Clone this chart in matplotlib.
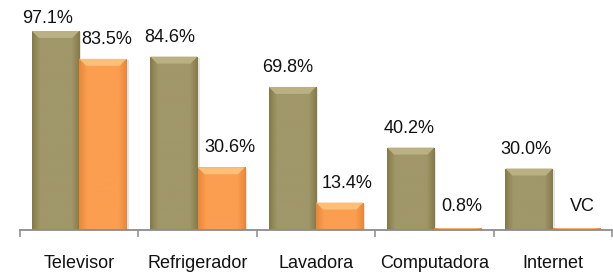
#!/usr/bin/env python3
"""Tenencia de bienes: dos series de barras con etiquetas de porcentaje."""
import numpy as np
import matplotlib
matplotlib.use('Agg')
import matplotlib.pyplot as plt
from matplotlib.patches import Polygon
from matplotlib.colors import LinearSegmentedColormap

categories = ['Televisor', 'Refrigerador', 'Lavadora', 'Computadora', 'Internet']
serie_a = [97.1, 84.6, 69.8, 40.2, 30.0]
serie_b = [83.5, 30.6, 13.4, 0.8, 0.8]
labels_a = ['97.1%', '84.6%', '69.8%', '40.2%', '30.0%']
labels_b = ['83.5%', '30.6%', '13.4%', '0.8%', 'VC']

# label nudges in points (dx, dy)
nudge_a = [(-6, -5), (-3, 0), (-3, 0), (-1, 0), (-2, 0)]
nudge_b = [(3, 0), (6, 0), (5, 0), (3, 2), (4, 2)]

OLIVE = ('#857b48', '#a0976a', '#b9b183')   # edge, body, bevel
ORANGE = ('#e8873a', '#fb9e50', '#ffbf78')

plt.rcParams['font.family'] = ['Liberation Sans', 'DejaVu Sans']

W, H = 613, 275
fig = plt.figure(figsize=(W / 100, H / 100), dpi=100)
ax = fig.add_axes([20 / W, 45 / H, 592 / W, 230 / H])
ax.set_xlim(-0.5, 4.5)
ax.set_ylim(0, 112.2)

px_x = 5 / 592      # data units per pixel
px_y = 112.2 / 230
bw = 0.4


def fancy_bar(x, h, cols):
    edge, body, bevel = cols
    cmap = LinearSegmentedColormap.from_list(
        'b', [edge, body, body, body, body, body, edge])
    bar = ax.bar(x, h, width=bw, color=body, align='edge', zorder=2,
                 linewidth=0)[0]
    grad = np.linspace(0, 1, 64).reshape(1, -1)
    im = ax.imshow(grad, cmap=cmap, extent=(x, x + bw, 0, h), aspect='auto',
                   zorder=3, interpolation='bicubic')
    im.set_clip_path(bar)
    # soft shadow on the right
    ax.bar(x + 2 * px_x, h - px_y, width=bw, align='edge', color='#000000',
           alpha=0.10, zorder=1, linewidth=0)
    # top bevel
    d = min(7 * px_y, h * 0.5)
    inset = 7 * px_x
    ax.add_patch(Polygon([(x, h), (x + bw, h), (x + bw - inset, h - d),
                          (x + inset, h - d)], closed=True,
                         facecolor=bevel, edgecolor='none', zorder=4))


xs = np.arange(len(categories))
for i in xs:
    fancy_bar(i - bw, serie_a[i], OLIVE)
    fancy_bar(i, serie_b[i], ORANGE)
    ax.annotate(labels_a[i], (i - bw / 2, serie_a[i]),
                xytext=(nudge_a[i][0], 14 + nudge_a[i][1]),
                textcoords='offset points', ha='center', va='center',
                fontsize=13, color='#111111', annotation_clip=False)
    ax.annotate(labels_b[i], (i + bw / 2, serie_b[i]),
                xytext=(nudge_b[i][0], 14 + nudge_b[i][1]),
                textcoords='offset points', ha='center', va='center',
                fontsize=13, color='#111111', annotation_clip=False)

for s in ['top', 'right', 'left']:
    ax.spines[s].set_visible(False)
ax.spines['bottom'].set_color('#8c8c8c')
ax.spines['bottom'].set_linewidth(1.3)
ax.spines['bottom'].set_zorder(5)
ax.set_yticks([])
ax.set_xticks(np.arange(-0.5, 5, 1))
ax.set_xticklabels([])
ax.tick_params(axis='x', which='major', length=5, width=1.1, color='#8c8c8c')
ax.set_xticks(xs, minor=True)
ax.set_xticklabels(categories, minor=True, fontsize=13, color='#111111')
ax.tick_params(axis='x', which='minor', length=0, pad=18)

fig.savefig('out.png', dpi=100, facecolor='white')
